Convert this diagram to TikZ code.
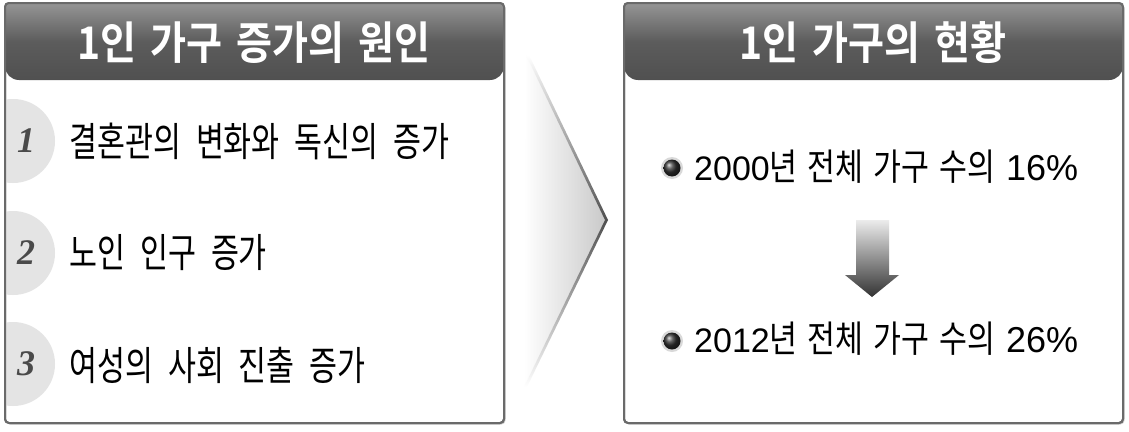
\documentclass[tikz,border=0pt]{standalone}
\usepackage{fontspec}
\setmainfont{Liberation Sans}
\newfontfamily\krh[FakeStretch=0.87,WordSpace=1.6]{Noto Sans CJK KR Bold}
\newfontfamily\krl[FakeStretch=0.76,WordSpace=2.2]{Noto Sans CJK KR}
\newfontfamily\krr[FakeStretch=0.82,WordSpace=1.5]{Noto Sans CJK KR}
\newfontfamily\numf{Liberation Serif}
\usetikzlibrary{shadows}
\definecolor{frame}{HTML}{6A6A6A}
\definecolor{hdtop}{HTML}{959595}
\definecolor{hdmid}{HTML}{5C5C5C}
\definecolor{hdbot}{HTML}{505050}
\definecolor{numcirc}{HTML}{E4E4E4}
\definecolor{numtxt}{HTML}{4A4A4A}
\definecolor{chevR}{HTML}{C8C8C8}
\definecolor{edge}{HTML}{505050}
\tikzset{
  boxframe/.style={draw=frame, line width=2pt, fill=white, rounded corners=4pt,
    drop shadow={opacity=0.35, shadow xshift=1.5pt, shadow yshift=-1.5pt}},
  headshade/.style={top color=hdtop, bottom color=hdbot, middle color=hdmid},
  headtxt/.style={text=white, font=\krh\fontsize{45}{47}\selectfont, inner sep=0pt},
  numtext/.style={text=numtxt, font=\numf\bfseries\itshape\fontsize{36}{38}\selectfont, inner sep=0pt},
  lefttxt/.style={anchor=west, font=\krl\fontsize{40}{42}\selectfont, inner sep=0pt},
  righttxt/.style={anchor=west, font=\fontsize{34}{36}\selectfont, inner sep=0pt},
  bulletring/.style={fill=gray!30},
  bulletball/.style={ball color=black!80},
}
\newcommand{\krtxt}[1]{{\krr\fontsize{37}{39}\selectfont #1}}
\newcommand{\pcttxt}[1]{{\fontsize{36}{38}\selectfont #1}}
\begin{document}
\begin{tikzpicture}[x=1pt,y=-1pt]
\useasboundingbox (0,0) rectangle (1129,431);

% ---------- left box ----------
\path[boxframe] (5,3) rectangle (504,423);
\begin{scope}
  \clip (6,4) rectangle (503,422);
  \fill[numcirc] (13,141) circle (42);
  \fill[numcirc] (13,253) circle (42);
  \fill[numcirc] (13,364) circle (42);
\end{scope}
\begin{scope}
  \clip[rounded corners=14pt] (5,-30) rectangle (504,80);
  \shade[headshade] (5,3) rectangle (504,80);
\end{scope}
\draw[draw=frame, line width=2pt, rounded corners=4pt] (5,3) rectangle (504,423);

\node[headtxt] (hl) at (254,43) {1인 가구 증가의 원인};

\node[numtext] (n1) at (26,141) {1};
\node[numtext] (n2) at (26,253) {2};
\node[numtext] (n3) at (26,364) {3};

\node[lefttxt] (l1) at (69,141) {결혼관의 변화와 독신의 증가};
\node[lefttxt] (l2) at (69,253) {노인 인구 증가};
\node[lefttxt] (l3) at (69,365) {여성의 사회 진출 증가};

% ---------- chevron ----------
\shade[left color=white, right color=chevR] (526,55) -- (607,220) -- (524,387) -- cycle;
\shade[top color=white, bottom color=edge] (526,55) -- (529,55) -- (608,220) -- (605,220) -- cycle;
\shade[top color=edge, bottom color=white] (605,220) -- (608,220) -- (527,387) -- (524,387) -- cycle;

% ---------- right box ----------
\path[boxframe] (624,3) rectangle (1123,423);
\begin{scope}
  \clip[rounded corners=14pt] (624,-30) rectangle (1123,80);
  \shade[headshade] (624,3) rectangle (1123,80);
\end{scope}
\draw[draw=frame, line width=2pt, rounded corners=4pt] (624,3) rectangle (1123,423);

\node[headtxt] (hr) at (873,43) {1인 가구의 현황};

% bullets
\fill[bulletring] (672,168) circle (11);
\shade[bulletball] (672,168) circle (8.5);
\fill[bulletring] (672,341) circle (11);
\shade[bulletball] (672,341) circle (8.5);

\node[righttxt] (r1) at (694,167) {2000\krtxt{년 전체 가구 수의 }\pcttxt{16\%}};
\node[righttxt] (r2) at (694,339) {2012\krtxt{년 전체 가구 수의 }\pcttxt{26\%}};

% down arrow
\shade[top color=gray!15, bottom color=black!80]
  (856,220) -- (889,220) -- (889,275) -- (899,275) -- (872,297) -- (845,275) -- (856,275) -- cycle;
\end{tikzpicture}
\end{document}
